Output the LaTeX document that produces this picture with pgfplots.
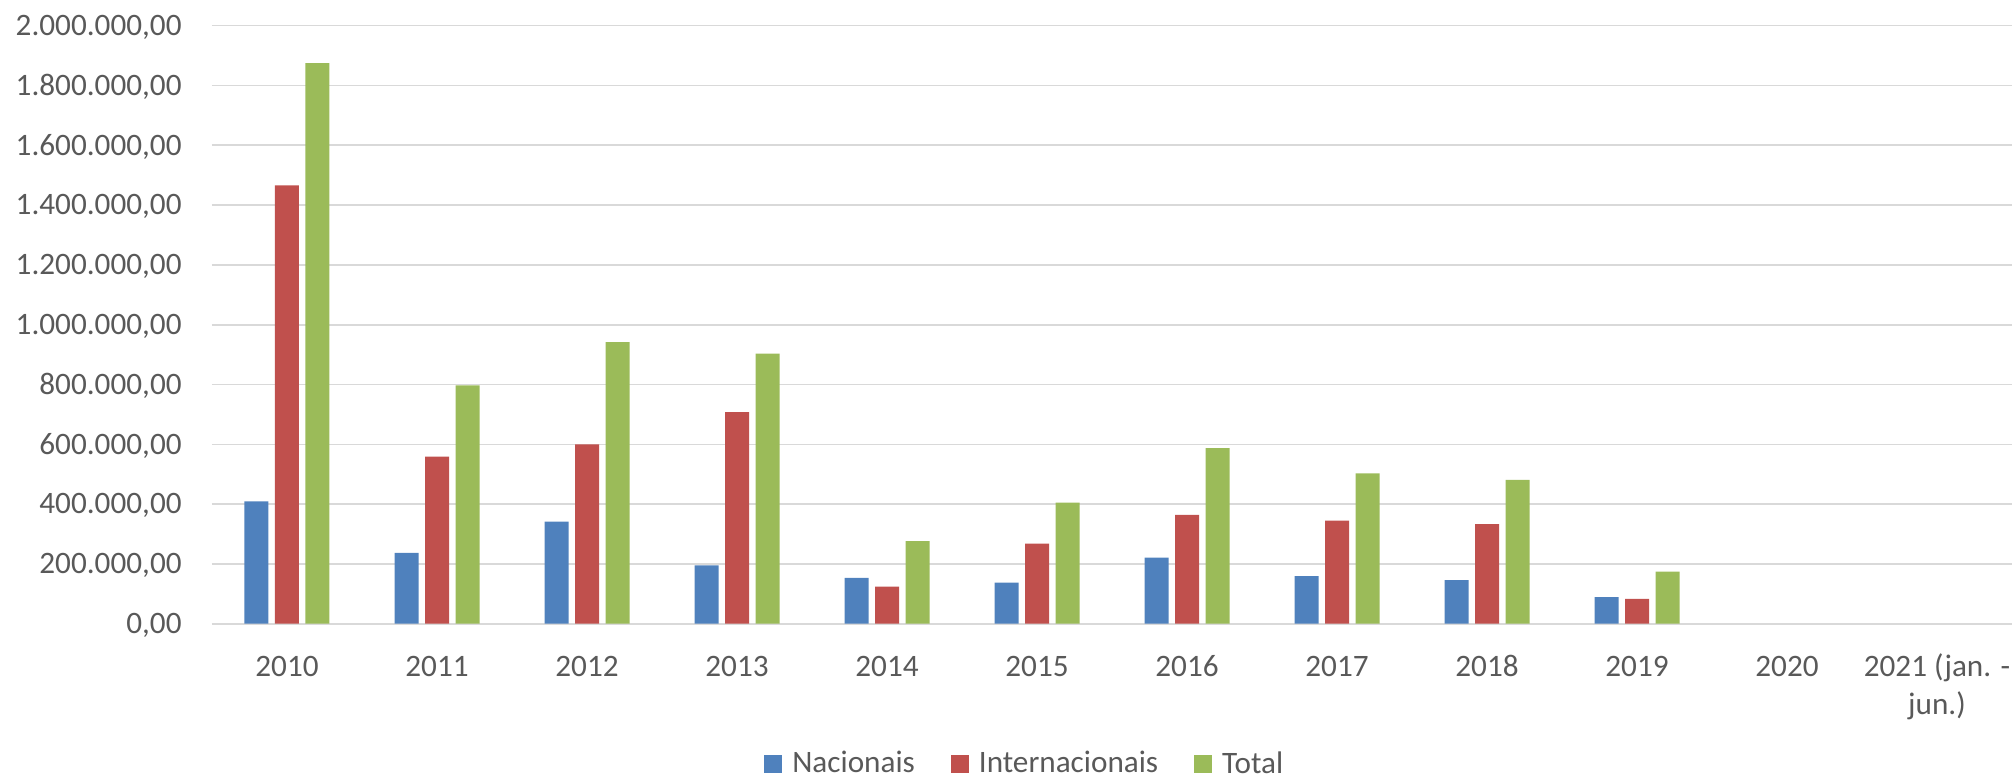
\documentclass[border=0pt]{standalone}
\usepackage{pgfplots}
\pgfplotsset{compat=1.18}
\usepackage{fontspec}
\setmainfont{Carlito}
\definecolor{cNac}{HTML}{4F81BD}
\definecolor{cInt}{HTML}{C0504D}
\definecolor{cTot}{HTML}{9BBB59}
\definecolor{cGrid}{HTML}{D9D9D9}
\definecolor{cText}{HTML}{595959}
\newcommand{\lblfont}{\fontsize{15.6bp}{18.7bp}\selectfont}
\begin{document}
\begin{tikzpicture}
\begin{axis}[
  scale only axis, width=900bp, height=299bp,
  xmin=-0.5, xmax=11.5, ymin=0, ymax=2000000,
  ybar=3.25bp, bar width=12bp,
  legend image code/.code={\fill[#1] (0bp,-4.5bp) rectangle (9bp,4.5bp);},
  axis line style={draw=none},
  major tick length=0pt,
  ymajorgrids, grid style={cGrid, line width=0.8bp},
  ytick={0,200000,400000,600000,800000,1000000,1200000,1400000,1600000,1800000,2000000},
  yticklabels={{0,00},{200.000,00},{400.000,00},{600.000,00},{800.000,00},{1.000.000,00},{1.200.000,00},{1.400.000,00},{1.600.000,00},{1.800.000,00},{2.000.000,00}},
  scaled y ticks=false,
  xtick={0,1,2,3,4,5,6,7,8,9,10,11},
  xticklabels={2010,2011,2012,2013,2014,2015,2016,2017,2018,2019,2020,{\begin{tabular}[t]{@{}c@{}}2021 (jan. -\\jun.)\end{tabular}}},
  every tick label/.append style={font=\lblfont, text=cText},
  yticklabel style={anchor=base east, inner sep=0pt, xshift=-15bp, yshift=-4.9bp},
  xticklabel style={anchor=base, inner sep=0pt, yshift=-26.5bp},
  legend columns=-1,
  legend style={at={(0.451,0)}, anchor=center, yshift=-70bp, draw=none, fill=none, inner sep=0pt,
    font=\lblfont, text=cText, nodes={inner sep=0pt},
    /tikz/every even column/.append style={column sep=18bp},
    /tikz/every odd column/.append style={column sep=5bp}},
]
\addplot[fill=cNac, draw=none] coordinates {(0,409000) (1,237000) (2,341000) (3,195000) (4,153000) (5,137000) (6,221000) (7,159000) (8,146000) (9,89000)};
\addplot[fill=cInt, draw=none] coordinates {(0,1466000) (1,559000) (2,600000) (3,708000) (4,124000) (5,268000) (6,364000) (7,345000) (8,333000) (9,83000)};
\addplot[fill=cTot, draw=none] coordinates {(0,1875000) (1,797000) (2,942000) (3,903000) (4,276000) (5,405000) (6,587000) (7,503000) (8,481000) (9,174000)};
\legend{Nacionais,Internacionais,Total}
\end{axis}
\pgfresetboundingbox
\path[use as bounding box] (-106bp,-78.15bp) rectangle (901.5bp,311.85bp);
\end{tikzpicture}
\end{document}
